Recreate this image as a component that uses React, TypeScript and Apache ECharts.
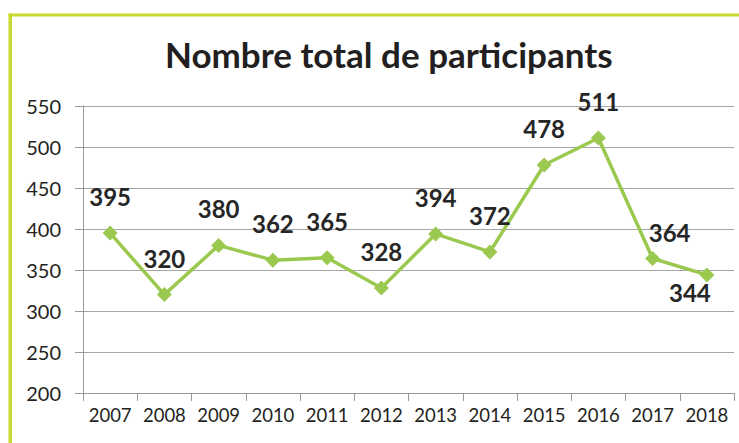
import React, { useEffect, useRef } from "react";
import * as echarts from "echarts";

const years = ["2007", "2008", "2009", "2010", "2011", "2012", "2013", "2014", "2015", "2016", "2017", "2018"];
const participants = [395, 320, 380, 362, 365, 328, 394, 372, 478, 511, 364, 344];
const titleText = "Nombre total de participants";

export default function App() {
  const ref = useRef<HTMLDivElement>(null);
  useEffect(() => {
    document.body.style.margin = "0";
    const chart = echarts.init(ref.current!, null, { renderer: "svg" });
    const font = "Lato, 'Open Sans', sans-serif";
    const data = participants.map((v, i) => {
      const item: any = { value: v };
      if (i === years.length - 2) {
        item.label = { position: "top", distance: 7, offset: [17, 0] };
      }
      if (i === years.length - 1) {
        item.label = { position: "bottom", distance: -2, offset: [-17, 0] };
      }
      return item;
    });
    chart.setOption({
      animation: false,
      backgroundColor: "#ffffff",
      textStyle: { fontFamily: font },
      title: {
        text: titleText,
        left: 160,
        top: 31,
        textStyle: { fontFamily: font, fontSize: 35, fontWeight: "bold", color: "#231f20" },
      },
      graphic: [
        { type: "rect", shape: { x: 8.5, y: 13.5, width: 3.5, height: 440 }, style: { fill: "#c6da2e" } },
        { type: "rect", shape: { x: 8.5, y: 13.5, width: 740, height: 3 }, style: { fill: "#c6da2e" } },
      ],
      grid: { left: 83, right: 5, top: 106, bottom: 50 },
      xAxis: {
        type: "category",
        data: years,
        boundaryGap: true,
        axisLine: { lineStyle: { color: "#9a9a9a", width: 1 } },
        axisTick: { show: true, length: 8, interval: 0, lineStyle: { color: "#9a9a9a" } },
        axisLabel: { fontFamily: font, fontSize: 18.5, color: "#231f20", margin: 12, interval: 0, hideOverlap: false },
      },
      yAxis: {
        type: "value",
        min: 200,
        max: 550,
        interval: 50,
        axisLine: { show: true, lineStyle: { color: "#9a9a9a", width: 1 } },
        axisTick: { show: true, length: 8, lineStyle: { color: "#9a9a9a" } },
        axisLabel: { fontFamily: font, fontSize: 20, color: "#231f20", margin: 22 },
        splitLine: { lineStyle: { color: "#a6a6a6", width: 1 } },
      },
      series: [
        {
          type: "line",
          data,
          symbol: "diamond",
          symbolSize: 15,
          lineStyle: { color: "#9bc84e", width: 3.5 },
          itemStyle: { color: "#9bc84e" },
          label: {
            show: true,
            position: "top",
            distance: 17,
            fontFamily: font,
            fontSize: 24,
            fontWeight: "bold",
            color: "#262626",
          },
        },
      ],
    });
    return () => chart.dispose();
  }, []);
  return <div ref={ref} style={{ width: 739, height: 443 }} />;
}
